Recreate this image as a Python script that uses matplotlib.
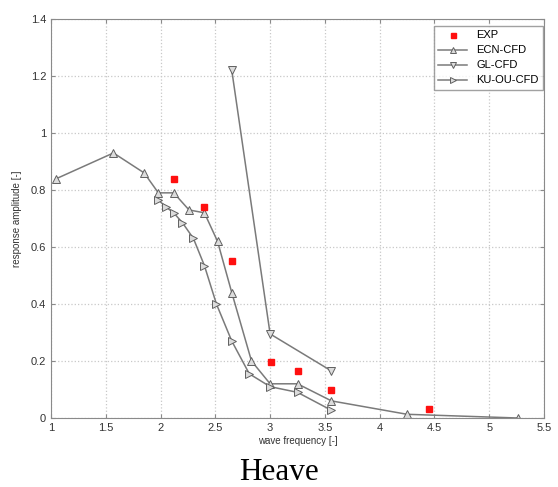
import matplotlib
matplotlib.use("Agg")
import matplotlib.pyplot as plt

# Data
exp_x = [2.12, 2.40, 2.65, 3.01, 3.25, 3.56, 4.45]
exp_y = [0.84, 0.74, 0.55, 0.195, 0.165, 0.097, 0.03]

ecn_x = [1.05, 1.57, 1.85, 1.98, 2.12, 2.26, 2.40, 2.52, 2.65, 2.83, 3.00, 3.25, 3.56, 4.25, 5.26]
ecn_y = [0.84, 0.93, 0.86, 0.79, 0.79, 0.73, 0.72, 0.62, 0.44, 0.20, 0.12, 0.12, 0.06, 0.013, 0.0]

gl_x = [2.65, 3.00, 3.56]
gl_y = [1.22, 0.295, 0.165]

ku_x = [1.98, 2.05, 2.12, 2.20, 2.30, 2.40, 2.51, 2.65, 2.81, 3.00, 3.25, 3.56]
ku_y = [0.765, 0.74, 0.72, 0.685, 0.63, 0.535, 0.40, 0.27, 0.155, 0.11, 0.09, 0.027]

xticks = [1, 1.5, 2, 2.5, 3, 3.5, 4, 4.5, 5, 5.5]
yticks = [0, 0.2, 0.4, 0.6, 0.8, 1, 1.2, 1.4]

plt.rcParams['font.family'] = ['Liberation Sans', 'DejaVu Sans']

fig = plt.figure(figsize=(5.58, 4.87), dpi=100)
ax = fig.add_axes([51/558, 1-418/487, (544-51)/558, (418-19)/487])

lc = '#7a7a7a'
mfc = '#dcdcdc'
ax.plot(exp_x, exp_y, 's', color='#ff1010', ms=4.5, mec='#ff1010', label='EXP', zorder=5)
ax.plot(ecn_x, ecn_y, '-^', color=lc, lw=1.1, ms=5.5, mfc=mfc, mec='#606060', mew=0.7, label='ECN-CFD')
ax.plot(gl_x, gl_y, '-v', color=lc, lw=1.1, ms=5.5, mfc=mfc, mec='#606060', mew=0.7, label='GL-CFD')
ax.plot(ku_x, ku_y, '->', color=lc, lw=1.1, ms=5.5, mfc=mfc, mec='#606060', mew=0.7, label='KU-OU-CFD')

ax.set_xlim(1, 5.5)
ax.set_ylim(0, 1.4)
ax.set_xticks(xticks)
ax.set_xticklabels(['1', '1.5', '2', '2.5', '3', '3.5', '4', '4.5', '5', '5.5'])
ax.set_yticks(yticks)
ax.set_yticklabels(['0', '0.2', '0.4', '0.6', '0.8', '1', '1.2', '1.4'])
ax.grid(True, ls=':', color='#c8c8c8', lw=0.9)
for s in ax.spines.values():
    s.set_color('#8a8a8a')
ax.tick_params(direction='in', length=3, colors='#8a8a8a', labelcolor='#333333', labelsize=8,
               top=True, right=True)

ax.set_xlabel('wave frequency [-]', fontsize=7, color='#333333', labelpad=2)
ax.set_ylabel('response amplitude [-]', fontsize=7, color='#333333', labelpad=6)

leg = ax.legend(loc='upper right', bbox_to_anchor=(0.998, 0.9825), borderaxespad=0,
                fontsize=8, frameon=True, fancybox=False,
                handlelength=2.6, labelspacing=0.45, borderpad=0.4, markerscale=0.8)
leg.get_frame().set_edgecolor('#8a8a8a')
leg.get_frame().set_linewidth(1.0)

fig.text(0.5, 1-473/487, 'Heave', ha='center', va='center', fontsize=22.5,
         family='Liberation Serif', color='black')

fig.savefig('out.png', dpi=100)
